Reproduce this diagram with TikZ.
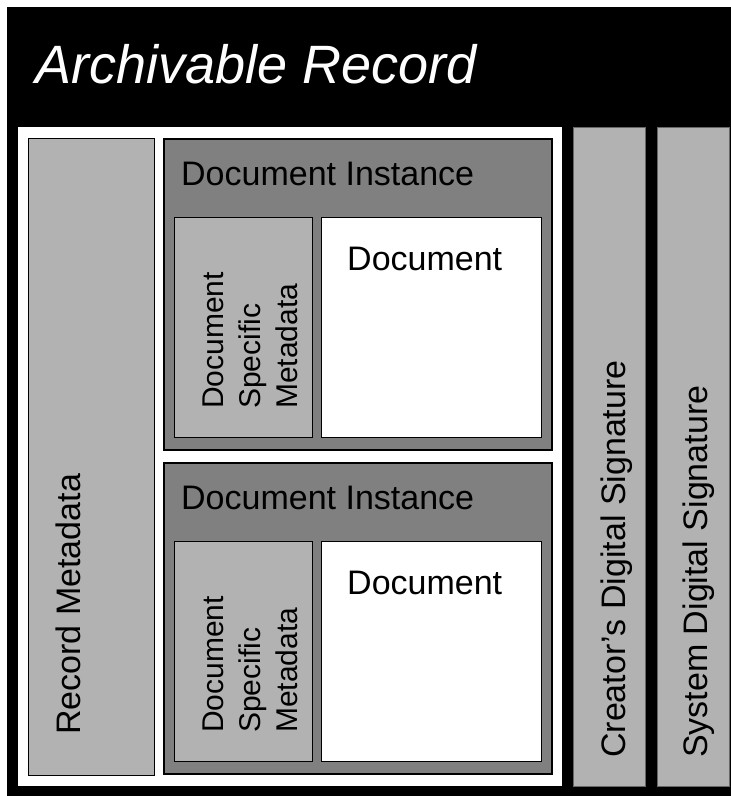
\documentclass[tikz,border=0pt]{standalone}
\usepackage{fontspec}
\setmainfont{Liberation Sans}
\begin{document}
\begin{tikzpicture}[x=1pt,y=-1pt,
    lbl/.style={inner sep=0pt,font=\fontsize{34}{40}\selectfont},
    vlbl/.style={lbl,rotate=90,anchor=base west},
    light/.style={draw=black,line width=0.9pt,fill=black!30},
    inst/.style={draw=black,line width=1.2pt,fill=black!50}]
\useasboundingbox (0,0) rectangle (731,796);
\fill[black] (7,7) rectangle (731,796);
\node[lbl,anchor=base west,text=white,font=\fontsize{54}{60}\selectfont\itshape] (title) at (35,83) {Archivable Record};
\fill[white] (18,127) rectangle (562,786);
% record metadata
\draw[light] (28,138) rectangle (154,775);
\node[vlbl] (recmeta) at (80,735) {Record Metadata};
% two document instances
\foreach \dy/\n in {0/1,324/2}{
  \draw[inst] (164,{139+\dy}) rectangle (552,{450+\dy});
  \node[lbl,anchor=base west] (inst\n) at (181,{185+\dy}) {Document Instance};
  \draw[light] (174,{217+\dy}) rectangle (312,{437+\dy});
  \node[lbl,rotate=90,anchor=north west,align=left,font=\fontsize{30}{37}\selectfont] (docmeta\n) at (202.4,{409+\dy}) {Document\\Specific\\Metadata};
  \draw[draw=black,line width=0.9pt,fill=white] (321,{217+\dy}) rectangle (541,{437+\dy});
  \node[lbl,anchor=base west] (doc\n) at (347,{270+\dy}) {Document};
}
% signatures
\draw[light,draw=black!60] (573,127) rectangle (645,786);
\node[vlbl] (creator) at (625,758) {Creator’s Digital Signature};
\draw[light,draw=black!60] (657,127) rectangle (729,786);
\node[vlbl] (system) at (707,758) {System Digital Signature};
\end{tikzpicture}
\end{document}
